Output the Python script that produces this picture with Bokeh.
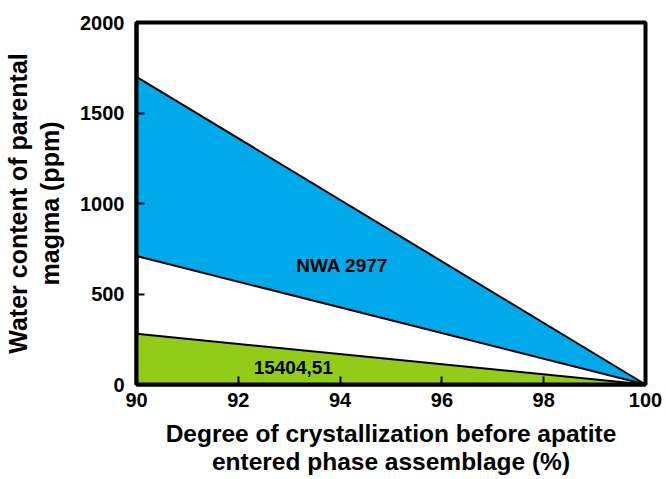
from bokeh.plotting import figure
from bokeh.models import Range1d, Label, FixedTicker, LinearAxis
from bokeh.embed import file_html
from bokeh.resources import INLINE

# Crystallization degree (%) and water-content bounds (ppm)
x_vals = [90, 100]
nwa_upper = [1700, 0]
nwa_lower = [710, 0]
lunar_upper = [280, 0]
lunar_lower = [0, 0]

x_ticks = [90, 92, 94, 96, 98, 100]
y_ticks = [0, 500, 1000, 1500, 2000]

FONT = "Liberation Sans"

p = figure(width=666, height=479, output_backend="svg", toolbar_location=None,
           x_range=Range1d(90, 100), y_range=Range1d(0, 2000),
           min_border_left=136, min_border_right=21, min_border_top=22,
           min_border_bottom=95)
p.grid.visible = False
p.background_fill_color = "white"
p.border_fill_color = "white"
p.outline_line_color = "black"
p.outline_line_width = 4

# NWA 2977 band
p.patch(x_vals + x_vals[::-1], nwa_upper + nwa_lower[::-1],
        fill_color="#00aaea", line_color="black", line_width=2)
# 15404,51 band
p.patch(x_vals + x_vals[::-1], lunar_upper + lunar_lower[::-1],
        fill_color="#92cc18", line_color="black", line_width=2)

p.add_layout(Label(x=94.04, y=660, text="NWA 2977", text_align="center",
                   text_baseline="middle", text_font=FONT, text_font_style="bold",
                   text_font_size="19px", text_color="black"))
p.add_layout(Label(x=93.08, y=94, text="15404,51", text_align="center",
                   text_baseline="middle", text_font=FONT, text_font_style="bold",
                   text_font_size="19px", text_color="black"))

for ax in (p.xaxis[0], p.yaxis[0]):
    ax.axis_line_color = "black"
    ax.axis_line_width = 4
    ax.major_tick_in = 8
    ax.major_tick_out = 0
    ax.major_tick_line_width = 2
    ax.minor_tick_line_color = None
    ax.major_label_text_font = FONT
    ax.major_label_text_font_style = "bold"
    ax.major_label_text_font_size = "20px"
    ax.major_label_text_color = "black"
    ax.axis_label_text_font = FONT
    ax.axis_label_text_font_style = "bold"
    ax.axis_label_text_color = "black"

p.xaxis.ticker = FixedTicker(ticks=x_ticks)
p.yaxis.ticker = FixedTicker(ticks=y_ticks)
p.xaxis.major_label_standoff = 8
p.yaxis.major_label_standoff = 12

p.xaxis.axis_label = "Degree of crystallization before apatite\nentered phase assemblage (%)"
p.xaxis.axis_label_text_font_size = "24.5px"
p.xaxis.axis_label_text_line_height = 1.05
p.xaxis.axis_label_standoff = 10

# Two-line y title: second line on the main axis, first line on an outer axis
p.yaxis.axis_label = "magma (ppm)"
p.yaxis.axis_label_text_font_size = "25px"
p.yaxis.axis_label_standoff = 13

outer = LinearAxis(ticker=FixedTicker(ticks=[]), axis_line_color=None,
                   major_tick_in=0, major_tick_out=0, minor_tick_line_color=None,
                   major_label_text_font_size="0px", major_label_standoff=0,
                   axis_label="Water content of parental",
                   axis_label_text_font=FONT, axis_label_text_font_style="bold",
                   axis_label_text_font_size="25px", axis_label_text_color="black",
                   axis_label_standoff=2)
p.add_layout(outer, "left")

open("out.html", "w").write(file_html(p, INLINE))
